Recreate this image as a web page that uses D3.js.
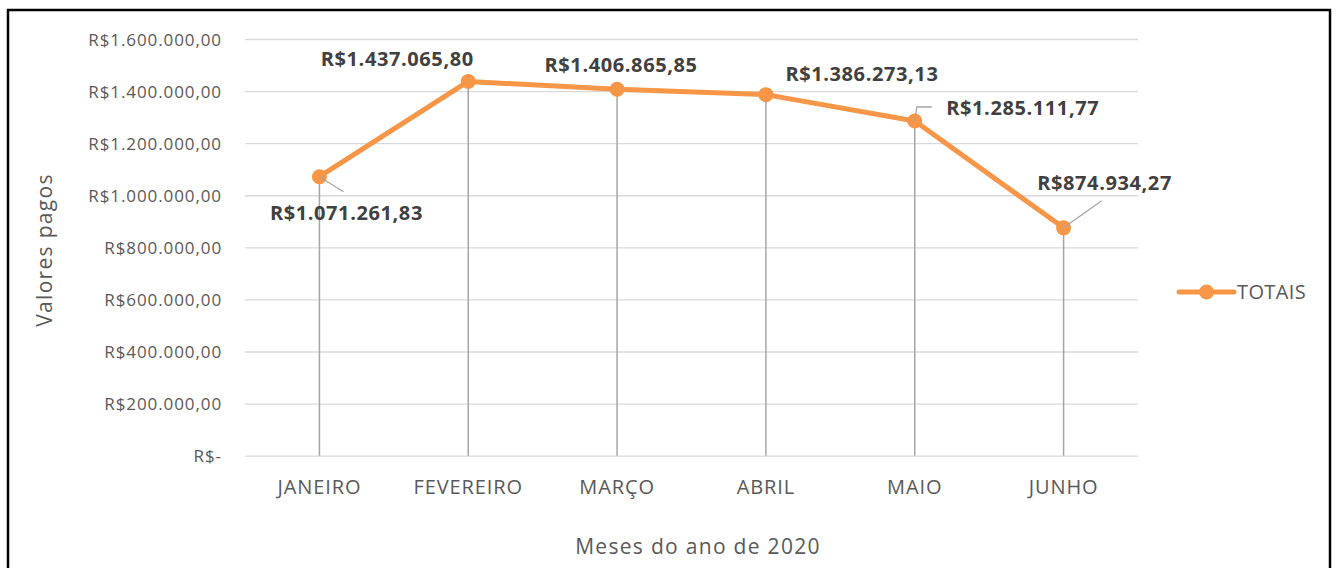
<!DOCTYPE html>
<html>
<head lang="pt">
    <meta charset="UTF-8">
    <title></title>
    <script src="https://cdn.jsdelivr.net/npm/d3@7"></script>
    <style>
        body{ margin:0; background:#fff; }
        text{ font-family:"Open Sans", sans-serif; }
        .grid line{ stroke:#d9d9d9; stroke-width:1.3px; }
        .ytk .tick text{ fill:#595959; font-size:17px; letter-spacing:0.9px; }
        .xtk .tick text{ fill:#595959; font-size:20px; letter-spacing:0.9px; }
        .drop{ stroke:#a6a6a6; stroke-width:1.5px; }
        .leader{ fill:none; stroke:#a6a6a6; stroke-width:1.3px; }
        .lbl{ fill:#404040; font-size:20px; font-weight:bold; letter-spacing:0.6px; }
        .ttl{ fill:#595959; font-size:21px; letter-spacing:1.3px; }
    </style>
</head>
<body>
<div id="tu1"></div>
<script>
    var meses=['JANEIRO','FEVEREIRO','MARÇO','ABRIL','MAIO','JUNHO'];
    var totais=[1071261.83,1437065.80,1406865.85,1386273.13,1285111.77,874934.27];
    var yTicks=[0,200000,400000,600000,800000,1000000,1200000,1400000,1600000];
    var serieNome='TOTAIS';

    // posição dos rótulos (deslocamento a partir do ponto), como no Excel
    var lblOff=[[27,43],[-71,-15],[4,-17],[96,-14],[108,-6],[41,-38]];
    var leaders=[[[0,0],[24,15]],null,null,null,[[0,0],[2,-14],[17,-14]],[[0,0],[38,-27]]];

    var W=1338,H=568;
    var br=d3.formatLocale({decimal:',',thousands:'.',grouping:[3],currency:['R$','']});
    var fmt=br.format('$,.2f');
    function moeda(v){ return v===0?'R$-':fmt(v); }

    var svg=d3.select('#tu1').append('svg').attr('width',W).attr('height',H);
    svg.append('rect').attr('x',8).attr('y',10).attr('width',1322).attr('height',580)
        .attr('fill','none').attr('stroke','#000').attr('stroke-width',2.5);

    var x=d3.scaleBand().domain(meses).range([245,1138]);
    var y=d3.scaleLinear().domain([0,1600000]).range([455.7,39]);

    // grade + eixo y
    var gy=svg.append('g').attr('class','grid ytk').attr('transform','translate(245,0)')
        .call(d3.axisLeft(y).tickValues(yTicks).tickFormat(moeda).tickSize(-893).tickPadding(23));
    gy.select('.domain').remove();
    gy.selectAll('.tick text').attr('dy','0.36em');

    var gx=svg.append('g').attr('class','xtk').attr('transform','translate(0,455.7)')
        .call(d3.axisBottom(x).tickSize(0).tickPadding(24));
    gx.select('.domain').remove();

    // linhas de queda
    svg.selectAll('.drop').data(totais).enter().append('line').attr('class','drop')
        .attr('x1',function(d,i){return x(meses[i])+x.bandwidth()/2})
        .attr('x2',function(d,i){return x(meses[i])+x.bandwidth()/2})
        .attr('y1',function(d){return y(d)})
        .attr('y2',y(0));

    var line=d3.line()
        .x(function(d,i){return x(meses[i])+x.bandwidth()/2})
        .y(function(d){return y(d)});
    svg.append('path').datum(totais).attr('d',line)
        .attr('fill','none').attr('stroke','#f79646').attr('stroke-width',5).attr('stroke-linejoin','round');
    svg.selectAll('.pt').data(totais).enter().append('circle')
        .attr('cx',function(d,i){return x(meses[i])+x.bandwidth()/2})
        .attr('cy',function(d){return y(d)})
        .attr('r',7.5).attr('fill','#f79646');

    // linhas de chamada
    leaders.forEach(function(p,i){
        if(!p) return;
        var px=x(meses[i])+x.bandwidth()/2, py=y(totais[i]);
        svg.append('path').attr('class','leader')
            .attr('d',d3.line()(p.map(function(q){return [px+q[0],py+q[1]]})));
    });

    svg.selectAll('.lbl').data(totais).enter().append('text').attr('class','lbl')
        .attr('x',function(d,i){return x(meses[i])+x.bandwidth()/2+lblOff[i][0]})
        .attr('y',function(d,i){return y(d)+lblOff[i][1]})
        .attr('text-anchor','middle')
        .text(function(d){return moeda(d)});

    // títulos
    svg.append('text').attr('class','ttl').attr('text-anchor','middle')
        .attr('transform','translate(52,250) rotate(-90)').text('Valores pagos');
    svg.append('text').attr('class','ttl').attr('text-anchor','middle')
        .attr('x',698).attr('y',554).text('Meses do ano de 2020');

    // legenda
    var lg=svg.append('g').attr('transform','translate(1179,292)');
    lg.append('line').attr('x1',0).attr('x2',55).attr('stroke','#f79646').attr('stroke-width',5).attr('stroke-linecap','round');
    lg.append('circle').attr('cx',27.5).attr('r',7.5).attr('fill','#f79646');
    lg.append('text').attr('x',58).attr('y',7).attr('fill','#595959')
        .style('font-size','20px').style('letter-spacing','0.4px').text(serieNome);
</script>
</body>
</html>
